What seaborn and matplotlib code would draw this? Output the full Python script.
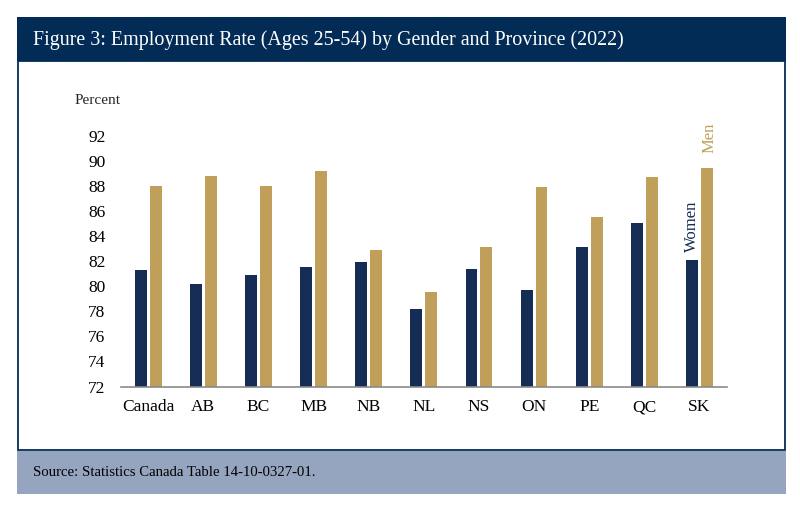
import numpy as np
import pandas as pd
import matplotlib
matplotlib.use("Agg")
import matplotlib.pyplot as plt
from matplotlib.patches import Rectangle
import seaborn as sns

# ==============================
# Data
# ==============================
provinces = ["Canada", "AB", "BC", "MB", "NB", "NL", "NS", "ON", "PE", "QC", "SK"]
women = [81.3, 80.2, 80.9, 81.5, 81.9, 78.2, 81.4, 79.7, 83.1, 85.0, 82.1]
men = [88.0, 88.8, 88.0, 89.2, 82.9, 79.5, 83.1, 87.9, 85.5, 88.7, 89.4]
y_ticks = [72, 74, 76, 78, 80, 82, 84, 86, 88, 90, 92]

title = "Figure 3: Employment Rate (Ages 25-54) by Gender and Province (2022)"
source = "Source: Statistics Canada Table 14-10-0327-01."

navy = "#022c56"
bar_navy = "#152d55"
gold = "#bf9f5a"
band = "#96a5bf"

df = pd.DataFrame({
    "province": provinces * 2,
    "rate": women + men,
    "gender": ["Women"] * len(provinces) + ["Men"] * len(provinces),
})

sns.set_theme(style="white")
plt.rcParams["font.family"] = ["Liberation Serif", "DejaVu Serif"]

W, H = 800, 523
fig = plt.figure(figsize=(W / 100, H / 100), dpi=100)

def fy(py):
    return 1 - py / H

# ==============================
# Frame: header, body, source band
# ==============================
fig.patches.append(Rectangle((17.3 / W, fy(60.7)), (786 - 17.3) / W, (60.7 - 16.7) / H,
                             transform=fig.transFigure, facecolor=navy, edgecolor="none", zorder=-2))
fig.patches.append(Rectangle((18 / W, fy(450)), (785 - 18) / W, (450 - 60.7) / H,
                             transform=fig.transFigure, facecolor="white", edgecolor=navy,
                             linewidth=1.3, zorder=-2))
fig.patches.append(Rectangle((17.3 / W, fy(494)), (786 - 17.3) / W, (494 - 451) / H,
                             transform=fig.transFigure, facecolor=band, edgecolor="none", zorder=-2))
fig.text(33 / W, fy(40), title, color="white", fontsize=14.4, va="center", ha="left")
fig.text(33 / W, fy(473), source, color="black", fontsize=10.6, va="center", ha="left")

# ==============================
# Bars
# ==============================
ax = fig.add_axes([120.7 / W, fy(386.5), (727 - 120.7) / W, (386.5 - 110.4) / H])
sns.barplot(data=df, x="province", y="rate", hue="gender", order=provinces,
            hue_order=["Women", "Men"], palette=[bar_navy, gold], saturation=1,
            width=0.54, gap=0.2, linewidth=0, legend=False, ax=ax)
ax.set_ylim(72, 94)
ax.set_xlim(-0.5, 10.5)
ax.set_yticks(y_ticks)
ax.set_xlabel("")
ax.set_ylabel("")
ax.patch.set_alpha(0)
for side in ["top", "right", "left"]:
    ax.spines[side].set_visible(False)
ax.spines["bottom"].set_color("#8a8a8a")
ax.spines["bottom"].set_linewidth(1.2)
ax.tick_params(axis="both", length=0, labelsize=12.5, colors="black")
ax.tick_params(axis="y", pad=11)
ax.tick_params(axis="x", pad=9)
ax.grid(False)

fig.text(75 / W, fy(100), "Percent", fontsize=11, va="center", ha="left")

# series labels next to the SK bars
last = len(provinces) - 1
ax.text(last - 0.136, women[last] + 0.6, "Women", rotation=90, color=bar_navy,
        fontsize=12, ha="center", va="bottom")
ax.text(last + 0.19, men[last] + 1.2, "Men", rotation=90, color=gold,
        fontsize=12, ha="center", va="bottom", clip_on=False)

fig.savefig("out.png", dpi=100)
